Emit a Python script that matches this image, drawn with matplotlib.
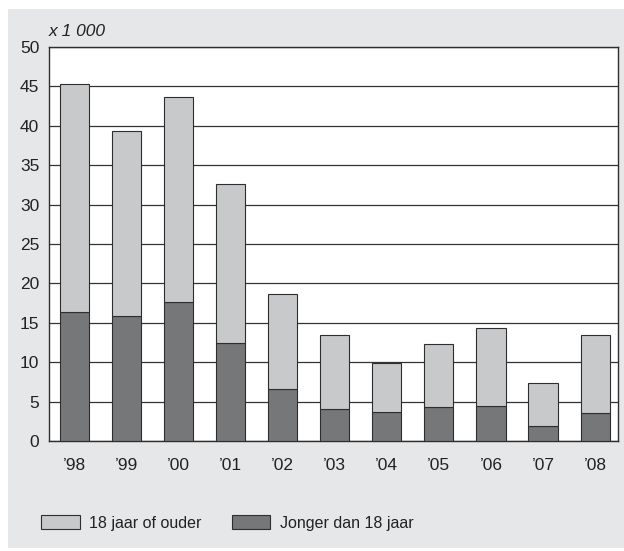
"""Stacked bars: aantal per jaar naar leeftijd (x 1 000)."""

import matplotlib
matplotlib.use("Agg")
import matplotlib.pyplot as plt
from matplotlib.patches import Rectangle, Patch
import numpy as np

years = ["\u201998", "\u201999", "\u201900", "\u201901", "\u201902", "\u201903",
         "\u201904", "\u201905", "\u201906", "\u201907", "\u201908"]
jonger = [16.4, 15.9, 17.7, 12.5, 6.6, 4.1, 3.7, 4.35, 4.5, 1.85, 3.5]
totaal = [45.25, 39.3, 43.65, 32.6, 18.7, 13.4, 9.9, 12.35, 14.4, 7.4, 13.4]
ouder = [t - j for t, j in zip(totaal, jonger)]

LIGHT = "#c8c9cb"
DARK = "#767779"
BG = "#e6e7e9"
EDGE = "#2e2e2e"
TXT = "#222222"

plt.rcParams["font.family"] = ["Liberation Sans", "DejaVu Sans"]

fig = plt.figure(figsize=(6.24, 5.51), dpi=100)
fig.patch.set_facecolor("white")
fig.add_artist(Rectangle((8 / 624, 3 / 551), 616 / 624, 539 / 551,
                         transform=fig.transFigure, facecolor=BG,
                         edgecolor="none", zorder=-10))

ax = fig.add_axes([49 / 624, 1 - 441 / 551, 569 / 624, 394 / 551])
ax.set_facecolor("white")

x = np.arange(len(years))
w = 0.56
ax.bar(x, jonger, w, color=DARK, edgecolor=EDGE, linewidth=0.8, zorder=3)
ax.bar(x, ouder, w, bottom=jonger, color=LIGHT, edgecolor=EDGE, linewidth=0.8, zorder=3)

ax.set_xlim(-0.49, 10.44)
ax.set_ylim(0, 50)
ax.set_yticks(range(0, 51, 5))
ax.set_xticks(x)
ax.set_xticklabels(years)
ax.tick_params(axis="both", length=0, labelsize=12.5, colors=TXT)
ax.tick_params(axis="x", pad=12)
ax.tick_params(axis="y", pad=7)
ax.yaxis.grid(True, color="#333333", linewidth=0.9, zorder=0)
ax.set_axisbelow(True)
for s in ax.spines.values():
    s.set_color(EDGE)
    s.set_linewidth(1.0)

ax.text(0.0, 1.04, "x 1 000", transform=ax.transAxes, fontsize=12.5,
        style="italic", color=TXT, va="center", ha="left")

handles = [Patch(facecolor=LIGHT, edgecolor=EDGE, linewidth=0.8),
           Patch(facecolor=DARK, edgecolor=EDGE, linewidth=0.8)]
fig.legend(handles, ["18 jaar of ouder", "Jonger dan 18 jaar"],
           loc="center left", bbox_to_anchor=(27 / 624, 1 - 523 / 551),
           ncol=2, frameon=False, fontsize=11.5, handlelength=2.4,
           handleheight=1.0, handletextpad=0.6, columnspacing=1.9,
           labelcolor=TXT)

fig.savefig("out.png", dpi=100, facecolor=fig.get_facecolor())
